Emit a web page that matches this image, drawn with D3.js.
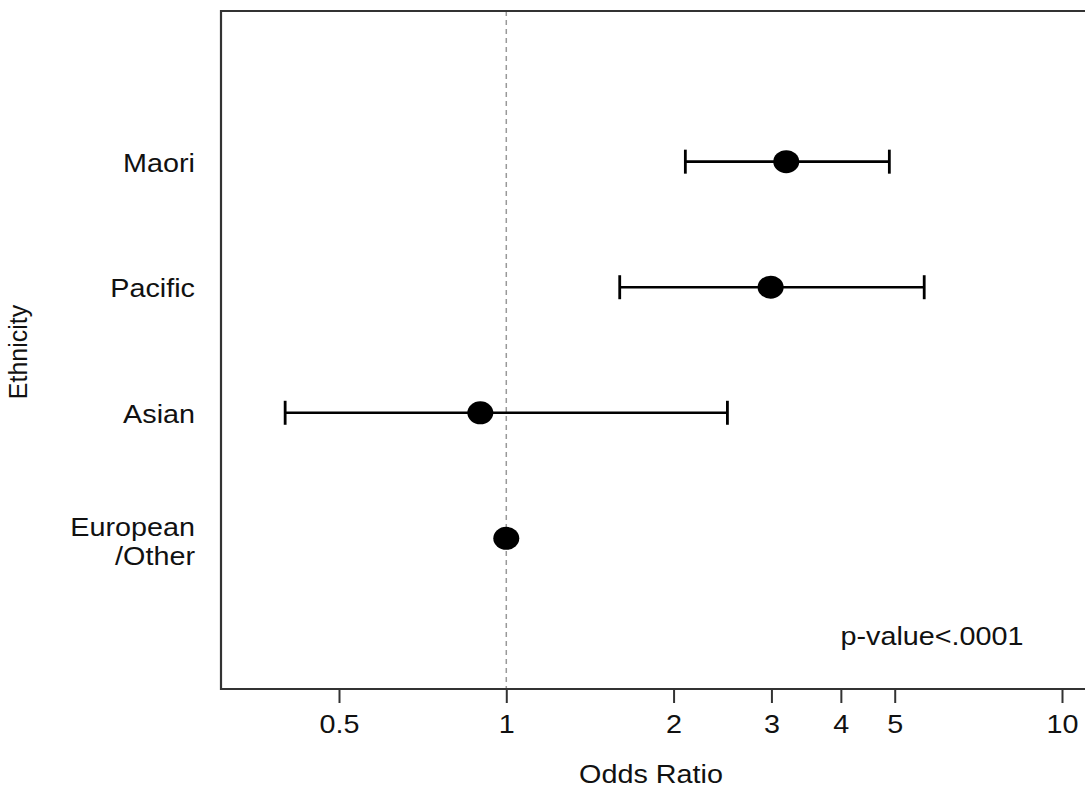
<!DOCTYPE html>
<html>
<head>
<meta charset="utf-8">
<script src="https://cdn.jsdelivr.net/npm/d3@7/dist/d3.min.js"></script>
<style>
  html, body { margin: 0; padding: 0; background: #fff; }
  svg text { font-family: "Liberation Sans", Arial, sans-serif; fill: #111; }
</style>
</head>
<body>
<svg id="chart" width="1085" height="792"></svg>
<script>
const categories = ["Maori", "Pacific", "Asian", "European\n/Other"];
const catPos = [4, 3, 2, 1];
const oddsRatio = [3.19, 2.99, 0.898, 1.0];
const ciLower = [2.10, 1.60, 0.40, null];
const ciUpper = [4.89, 5.65, 2.50, null];
const xTicks = [0.5, 1, 2, 3, 4, 5, 10];
const xLabel = "Odds Ratio";
const yLabel = "Ethnicity";
const note = "p-value<.0001";

(function () {
const svg = d3.select("#chart");
const SX = 1.15; // horizontal stretch of the reference picture

const pL = 221, pR = 1100, pT = 11, pB = 689;
const x = d3.scaleLog().domain([0.5, 10]).range([339, 1062]);
const y = d3.scaleLinear().domain([-0.2, 5.2]).range([pB, pT]);

// reference line at OR = 1
svg.append("line")
  .attr("x1", x(1)).attr("x2", x(1))
  .attr("y1", pT).attr("y2", pB)
  .attr("stroke", "#999").attr("stroke-width", 1.5)
  .attr("stroke-dasharray", "5,4");

// plot box (right edge is beyond the picture)
svg.append("path")
  .attr("d", `M${pR},${pT}H${pL}V${pB}H${pR}`)
  .attr("fill", "none").attr("stroke", "#333").attr("stroke-width", 2.2);

// x axis
const xAxis = d3.axisBottom(x).tickValues(xTicks).tickSize(14)
  .tickFormat(d => String(d));
const gx = svg.append("g").attr("transform", `translate(0,${pB})`).call(xAxis);
gx.select(".domain").remove();
gx.selectAll(".tick line").attr("stroke", "#333").attr("stroke-width", 2);
gx.selectAll(".tick text")
  .attr("y", 0).attr("dy", 0)
  .attr("transform", `translate(0,44) scale(${SX},1)`)
  .attr("font-size", 25).attr("fill", "#111");

// data rows
const rows = categories.map((c, i) => ({
  cat: c, pos: catPos[i], or: oddsRatio[i], lo: ciLower[i], hi: ciUpper[i]
}));

const ci = rows.filter(d => d.lo != null);
const g = svg.append("g");
g.selectAll(".ci").data(ci).enter().append("line")
  .attr("x1", d => x(d.lo)).attr("x2", d => x(d.hi))
  .attr("y1", d => y(d.pos)).attr("y2", d => y(d.pos))
  .attr("stroke", "#000").attr("stroke-width", 2.6);
g.selectAll(".capl").data(ci).enter().append("line")
  .attr("x1", d => x(d.lo)).attr("x2", d => x(d.lo))
  .attr("y1", d => y(d.pos) - 12).attr("y2", d => y(d.pos) + 12)
  .attr("stroke", "#000").attr("stroke-width", 2.8);
g.selectAll(".capr").data(ci).enter().append("line")
  .attr("x1", d => x(d.hi)).attr("x2", d => x(d.hi))
  .attr("y1", d => y(d.pos) - 12).attr("y2", d => y(d.pos) + 12)
  .attr("stroke", "#000").attr("stroke-width", 2.8);
g.selectAll(".pt").data(rows).enter().append("ellipse")
  .attr("cx", d => x(d.or)).attr("cy", d => y(d.pos))
  .attr("rx", 13).attr("ry", 11.5)
  .attr("fill", "#000");

// category labels
rows.forEach(d => {
  const lines = d.cat.split("\n");
  const n = lines.length;
  const t = svg.append("text")
    .attr("transform", `translate(195,${y(d.pos)}) scale(${SX},1)`)
    .attr("text-anchor", "end")
    .attr("font-size", 25);
  lines.forEach((ln, k) => {
    t.append("tspan").attr("x", 0)
      .attr("y", 10 + (k - (n - 1) / 2) * 29 + (n > 1 ? 2 : 0))
      .text(ln);
  });
});

// axis titles
svg.append("text")
  .attr("transform", `translate(651,783) scale(${SX},1)`)
  .attr("text-anchor", "middle").attr("font-size", 25)
  .text(xLabel);
svg.append("text")
  .attr("transform", `translate(27,352) rotate(-90)`)
  .attr("text-anchor", "middle").attr("font-size", 25)
  .text(yLabel);

// p-value note
svg.append("text")
  .attr("transform", `translate(932,645) scale(${SX},1)`)
  .attr("text-anchor", "middle").attr("font-size", 25)
  .text(note);
})();
</script>
</body>
</html>
